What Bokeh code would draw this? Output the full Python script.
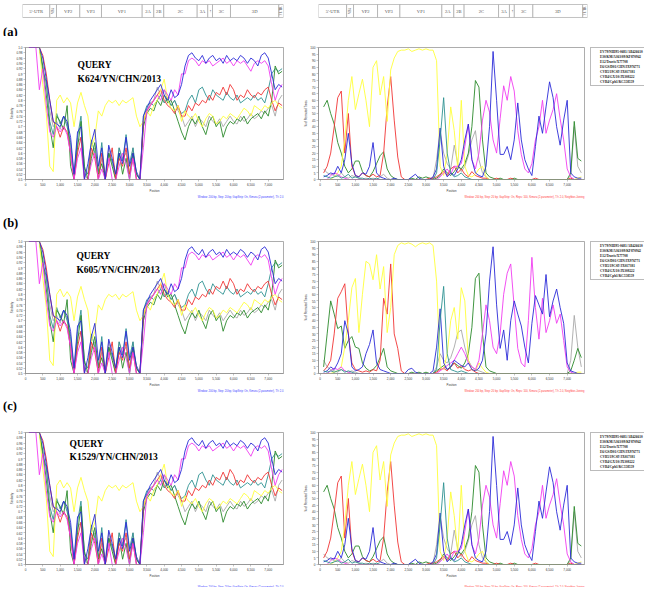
from bokeh.plotting import figure
from bokeh.models import (ColumnDataSource, FixedTicker, NumeralTickFormatter,
                          Legend, LegendItem, Label, Range1d)
from bokeh.layouts import row, column
from bokeh.embed import file_html
from bokeh.resources import INLINE
from bokeh.core.properties import value

# ---------------- data ----------------
positions = list(range(100, 7500, 100))   # genome position (nt), 74 points

strains = ["EV79/NIH95-0681/AB426610", "E30/KM/A363/09/KF870942", "E12/Travis/X77708",
           "E6/GS/D01/CHN/JX976771", "CVB5/19CSF/JX017381", "CVB4/GX/10/JX308222",
           "CVB4/Cpb1/KC558559"]
keys = ["ev79", "e30", "e12", "e6", "cvb5", "cvb4gx", "cvb4cpb1"]
colors = ["#f03434", "#2b8a2b", "#ffff3a", "#2a2ad8", "#a8a8a8", "#f03cf0", "#2e9292"]

# similarity values (SimPlot)
sim_ev79 = [1.0, 1.0, 1.0, 1.0, 0.97, 0.9, 0.8, 0.72, 0.7, 0.66, 0.7, 0.68, 0.6,
            0.5, 0.6, 0.66, 0.5, 0.5, 0.62, 0.58, 0.5, 0.6, 0.5, 0.56, 0.62, 0.5, 0.58, 0.55, 0.62, 0.52, 0.58, 0.5, 0.5,
            0.72, 0.76, 0.78, 0.8, 0.82, 0.84, 0.8, 0.78, 0.77, 0.75, 0.78, 0.74,
            0.74, 0.78, 0.76, 0.79, 0.78, 0.8, 0.79, 0.82, 0.8, 0.83, 0.82, 0.85, 0.82, 0.86, 0.84,
            0.8, 0.82, 0.81, 0.84, 0.82, 0.81, 0.83, 0.82, 0.84, 0.85, 0.8, 0.76, 0.79, 0.78]
sim_e30 = [1.0, 1.0, 1.0, 1.0, 0.93, 0.82, 0.7, 0.62, 0.74, 0.72, 0.69, 0.78, 0.55,
           0.5, 0.62, 0.72, 0.55, 0.5, 0.58, 0.64, 0.52, 0.56, 0.5, 0.6, 0.55, 0.5, 0.6, 0.52, 0.58, 0.5, 0.6, 0.52, 0.5,
           0.7, 0.75, 0.77, 0.76, 0.8, 0.78, 0.82, 0.79, 0.8, 0.76, 0.72, 0.68,
           0.65, 0.7, 0.73, 0.71, 0.74, 0.7, 0.67, 0.72, 0.74, 0.7, 0.72, 0.66, 0.7, 0.72, 0.71,
           0.73, 0.72, 0.74, 0.71, 0.73, 0.74, 0.75, 0.73, 0.76, 0.74, 0.8, 0.93, 0.9, 0.91]
sim_e12 = [1.0, 1.0, 1.0, 1.0, 0.86, 0.75, 0.55, 0.53, 0.8, 0.82, 0.79, 0.81, 0.79,
           0.7, 0.79, 0.83, 0.78, 0.74, 0.62, 0.66, 0.76, 0.74, 0.78, 0.8, 0.79, 0.8, 0.78, 0.8, 0.79, 0.8, 0.81, 0.74, 0.7,
           0.72, 0.76, 0.74, 0.78, 0.8, 0.84, 0.88, 0.8, 0.77, 0.76, 0.78, 0.72,
           0.76, 0.74, 0.73, 0.75, 0.72, 0.7, 0.73, 0.75, 0.74, 0.71, 0.72, 0.74, 0.73, 0.75, 0.74,
           0.73, 0.75, 0.77, 0.76, 0.74, 0.78, 0.77, 0.76, 0.78, 0.77, 0.79, 0.8, 0.78, 0.77]
sim_e6 = [1.0, 1.0, 1.0, 1.0, 0.96, 0.88, 0.8, 0.72, 0.71, 0.7, 0.74, 0.72, 0.66,
          0.52, 0.68, 0.7, 0.5, 0.56, 0.64, 0.69, 0.55, 0.62, 0.5, 0.63, 0.58, 0.52, 0.6, 0.56, 0.66, 0.55, 0.6, 0.53, 0.5,
          0.74, 0.77, 0.8, 0.82, 0.84, 0.86, 0.82, 0.8, 0.84, 0.81, 0.82, 0.86,
          0.93, 0.97, 0.98, 0.96, 0.95, 0.97, 0.94, 0.96, 0.97, 0.95, 0.96, 0.94, 0.97, 0.95, 0.96,
          0.95, 0.97, 0.96, 0.94, 0.96, 0.95, 0.93, 0.97, 0.98, 0.96, 0.9, 0.84, 0.86, 0.85]
sim_cvb5 = [1.0, 1.0, 1.0, 1.0, 0.92, 0.86, 0.76, 0.7, 0.72, 0.69, 0.74, 0.71, 0.62,
            0.5, 0.64, 0.66, 0.52, 0.5, 0.6, 0.62, 0.5, 0.58, 0.52, 0.62, 0.56, 0.5, 0.62, 0.58, 0.6, 0.52, 0.62, 0.5, 0.5,
            0.72, 0.76, 0.79, 0.8, 0.85, 0.82, 0.84, 0.8, 0.78, 0.8, 0.76, 0.74,
            0.7, 0.72, 0.74, 0.7, 0.73, 0.72, 0.7, 0.74, 0.72, 0.71, 0.73, 0.7, 0.72, 0.74, 0.72,
            0.71, 0.74, 0.72, 0.73, 0.75, 0.73, 0.74, 0.76, 0.75, 0.77, 0.78, 0.74, 0.8, 0.82]
sim_cvb4gx = [1.0, 1.0, 1.0, 0.84, 0.92, 0.78, 0.68, 0.66, 0.7, 0.68, 0.7, 0.67, 0.6,
              0.5, 0.58, 0.62, 0.5, 0.5, 0.56, 0.6, 0.5, 0.54, 0.5, 0.58, 0.5, 0.5, 0.55, 0.6, 0.56, 0.5, 0.58, 0.5, 0.5,
              0.62, 0.76, 0.78, 0.8, 0.82, 0.8, 0.84, 0.82, 0.8, 0.84, 0.82, 0.9,
              0.9, 0.95, 0.96, 0.95, 0.93, 0.95, 0.94, 0.95, 0.93, 0.94, 0.95, 0.96, 0.94, 0.95, 0.93,
              0.95, 0.94, 0.95, 0.93, 0.91, 0.94, 0.95, 0.94, 0.95, 0.93, 0.86, 0.8, 0.84, 0.86]
sim_cvb4cpb1 = [1.0, 1.0, 1.0, 1.0, 0.91, 0.87, 0.72, 0.67, 0.75, 0.71, 0.74, 0.7, 0.64,
                0.51, 0.66, 0.74, 0.54, 0.52, 0.65, 0.6, 0.53, 0.64, 0.5, 0.6, 0.57, 0.52, 0.62, 0.57, 0.67, 0.56, 0.62, 0.52, 0.5,
                0.74, 0.78, 0.79, 0.78, 0.8, 0.82, 0.79, 0.81, 0.78, 0.8, 0.77, 0.75,
                0.76, 0.8, 0.82, 0.79, 0.84, 0.85, 0.82, 0.8, 0.84, 0.82, 0.81, 0.8, 0.83, 0.81, 0.8,
                0.82, 0.79, 0.8, 0.81, 0.8, 0.82, 0.8, 0.81, 0.79, 0.84, 0.9, 0.92, 0.91, 0.92]

# bootscan values (% of permuted trees), panels (a) and (c)
boot_ev79 = [5, 10, 20, 40, 62, 67, 20, 50, 10, 3,
             2, 5, 3, 2, 4, 2, 3, 20, 55, 78,
             45, 17, 2, 0, 0, 0, 0, 0, 0, 0,
             1, 1, 2, 4, 6, 3, 8, 10, 5, 8,
             4, 2, 6, 3, 2, 1, 1, 0, 0, 1,
             0, 0, 0, 1, 0, 0, 0, 0, 0, 0,
             1, 0, 0, 0, 0, 0, 0, 0, 0, 0,
             1, 0, 0, 0]
boot_e30 = [55, 60, 50, 42, 28, 20, 10, 5, 8, 14,
            14, 6, 3, 2, 6, 12, 18, 21, 8, 3,
            1, 0, 0, 0, 0, 1, 0, 2, 1, 2,
            1, 0, 1, 3, 8, 5, 3, 6, 10, 8,
            12, 20, 40, 75, 70, 30, 5, 2, 1, 0,
            1, 0, 0, 0, 1, 0, 0, 0, 0, 0,
            0, 0, 0, 0, 0, 0, 0, 0, 0, 0,
            5, 44, 16, 14]
boot_e12 = [0, 0, 0, 2, 5, 10, 30, 60, 78, 53,
            65, 76, 60, 40, 85, 90, 64, 78, 44, 83,
            92, 97, 98, 98, 99, 97, 98, 99, 98, 99,
            98, 98, 90, 10, 3, 20, 55, 37, 8, 60,
            10, 3, 2, 4, 8, 10, 2, 0, 0, 0,
            0, 0, 0, 0, 0, 0, 0, 0, 0, 0,
            0, 0, 0, 0, 0, 0, 0, 0, 0, 0,
            0, 0, 1, 2]
boot_e6 = [2, 3, 5, 4, 10, 5, 15, 35, 12, 3,
           2, 5, 4, 10, 28, 5, 2, 1, 0, 0,
           1, 0, 0, 0, 0, 2, 4, 1, 0, 0,
           0, 2, 8, 39, 10, 2, 5, 3, 8, 15,
           30, 42, 15, 5, 3, 2, 10, 40, 97, 60,
           19, 19, 25, 15, 30, 58, 30, 15, 8, 3,
           25, 48, 35, 55, 74, 62, 40, 26, 45, 60,
           5, 2, 1, 1]
boot_cvb5 = [8, 5, 4, 3, 2, 5, 2, 1, 3, 2,
             1, 0, 1, 0, 1, 0, 2, 4, 1, 0,
             0, 0, 0, 0, 0, 0, 0, 0, 0, 0,
             0, 1, 15, 37, 20, 12, 8, 26, 12, 6,
             10, 18, 30, 37, 15, 5, 2, 0, 0, 0,
             0, 0, 0, 0, 0, 0, 0, 0, 0, 0,
             0, 0, 0, 0, 0, 0, 0, 0, 0, 0,
             3, 40, 10, 5]
boot_cvb4gx = [0, 0, 3, 5, 4, 2, 1, 0, 0, 0,
               0, 0, 0, 0, 0, 0, 0, 0, 0, 0,
               0, 0, 0, 0, 0, 0, 0, 0, 0, 0,
               0, 0, 0, 2, 5, 8, 4, 10, 10, 12,
               25, 42, 15, 8, 20, 45, 60, 51, 30, 20,
               46, 71, 60, 78, 67, 37, 19, 8, 5, 12,
               30, 40, 60, 35, 45, 53, 65, 46, 30, 8,
               2, 0, 0, 0]
boot_cvb4cpb1 = [3, 2, 1, 2, 3, 1, 2, 4, 1, 2,
                 1, 1, 0, 1, 0, 1, 0, 0, 0, 0,
                 0, 0, 0, 0, 0, 0, 0, 0, 0, 0,
                 0, 0, 5, 30, 62, 20, 5, 2, 3, 5,
                 2, 1, 0, 0, 0, 0, 0, 0, 0, 0,
                 0, 0, 0, 0, 0, 0, 0, 0, 0, 0,
                 0, 0, 0, 0, 0, 0, 0, 0, 0, 0,
                 0, 0, 0, 0]

# bootscan values, panel (b)
bootb_ev79 = [2, 5, 10, 30, 57, 62, 68, 30, 8, 3,
              2, 1, 2, 1, 3, 2, 10, 57, 45, 83,
              30, 19, 2, 0, 0, 0, 0, 0, 0, 0,
              0, 0, 1, 3, 4, 2, 5, 8, 4, 6,
              3, 2, 3, 1, 0, 0, 0, 0, 0, 0,
              0, 0, 0, 0, 0, 0, 0, 0, 0, 0,
              0, 0, 0, 0, 0, 0, 0, 0, 0, 0,
              0, 0, 0, 0]
bootb_e30 = [5, 30, 55, 45, 34, 36, 19, 25, 28, 20,
             19, 8, 4, 2, 3, 6, 12, 19, 5, 2,
             1, 0, 0, 0, 0, 1, 0, 1, 0, 1,
             0, 0, 2, 4, 6, 3, 5, 8, 6, 4,
             8, 15, 35, 72, 76, 30, 5, 2, 1, 0,
             0, 0, 0, 0, 0, 0, 0, 0, 0, 0,
             0, 0, 0, 0, 0, 0, 0, 0, 0, 0,
             2, 10, 19, 12]
bootb_e12 = [0, 0, 0, 1, 2, 5, 20, 40, 65, 72,
             31, 60, 85, 83, 71, 90, 64, 81, 31, 50,
             90, 97, 99, 98, 99, 98, 96, 98, 99, 98,
             99, 97, 70, 5, 3, 15, 40, 50, 26, 65,
             55, 10, 3, 2, 8, 4, 1, 0, 0, 0,
             0, 0, 0, 0, 0, 0, 0, 0, 0, 0,
             0, 0, 0, 0, 0, 0, 0, 0, 0, 0,
             0, 0, 1, 1]
bootb_e6 = [1, 2, 5, 3, 8, 15, 40, 30, 5, 2,
            3, 5, 15, 22, 33, 8, 3, 2, 1, 0,
            0, 0, 0, 0, 3, 4, 1, 0, 0, 0,
            0, 2, 20, 49, 8, 3, 5, 10, 8, 6,
            5, 8, 3, 2, 4, 10, 30, 70, 96, 52,
            19, 33, 10, 40, 55, 45, 36, 20, 8, 38,
            59, 52, 45, 75, 43, 55, 64, 50, 38, 8,
            2, 1, 0, 0]
bootb_cvb5 = [10, 5, 3, 2, 1, 3, 2, 1, 2, 1,
              0, 0, 0, 0, 0, 0, 0, 0, 0, 0,
              0, 0, 0, 0, 0, 0, 0, 0, 0, 0,
              0, 0, 5, 15, 10, 8, 12, 20, 31, 33,
              20, 10, 5, 3, 2, 1, 0, 0, 0, 0,
              0, 0, 0, 0, 0, 0, 0, 0, 0, 0,
              0, 0, 0, 0, 0, 0, 0, 0, 0, 0,
              10, 44, 20, 5]
bootb_cvb4gx = [0, 0, 2, 4, 3, 5, 2, 1, 0, 0,
                0, 0, 0, 0, 0, 0, 0, 0, 0, 0,
                0, 0, 0, 0, 0, 0, 0, 0, 0, 0,
                0, 0, 0, 2, 4, 6, 8, 10, 15, 20,
                15, 8, 5, 3, 10, 30, 52, 40, 20, 15,
                30, 60, 76, 83, 50, 19, 8, 5, 40, 88,
                50, 26, 57, 31, 40, 52, 38, 45, 25, 5,
                1, 0, 0, 0]
bootb_cvb4cpb1 = [2, 1, 2, 1, 2, 3, 1, 2, 1, 0,
                  0, 0, 0, 0, 0, 0, 0, 0, 0, 0,
                  0, 0, 0, 0, 0, 0, 0, 0, 0, 0,
                  0, 0, 3, 40, 66, 15, 3, 2, 1, 2,
                  1, 0, 0, 0, 0, 0, 0, 0, 0, 0,
                  0, 0, 0, 0, 0, 0, 0, 0, 0, 0,
                  0, 0, 0, 0, 0, 0, 0, 0, 0, 0,
                  0, 0, 0, 0]

sim_series = [sim_ev79, sim_e30, sim_e12, sim_e6, sim_cvb5, sim_cvb4gx, sim_cvb4cpb1]
boot_series = [boot_ev79, boot_e30, boot_e12, boot_e6, boot_cvb5, boot_cvb4gx, boot_cvb4cpb1]
bootb_series = [bootb_ev79, bootb_e30, bootb_e12, bootb_e6, bootb_cvb5, bootb_cvb4gx,
                bootb_cvb4cpb1]
boot_by_row = [boot_series, bootb_series, boot_series]

panel_tags = ["(a)", "(b)", "(c)"]
queries = ["K624/YN/CHN/2013", "K605/YN/CHN/2013", "K1529/YN/CHN/2013"]
query_x = [1500, 1470, 1270]
query_y1 = [0.914, 0.926, 0.939]
query_y2 = [0.860, 0.872, 0.888]

sim_ticks = [0.5, 0.52, 0.54, 0.56, 0.58, 0.6, 0.62, 0.64, 0.66, 0.68, 0.7, 0.72, 0.74,
             0.76, 0.78, 0.8, 0.82, 0.84, 0.86, 0.88, 0.9, 0.92, 0.94, 0.96, 0.98, 1.0]
sim_tick_labels = ["0.5", "0.52", "0.54", "0.56", "0.58", "0.6", "0.62", "0.64", "0.66", "0.68",
                   "0.7", "0.72", "0.74", "0.76", "0.78", "0.8", "0.82", "0.84", "0.86", "0.88",
                   "0.9", "0.92", "0.94", "0.96", "0.98", "1.0"]
boot_ticks = [0, 5, 10, 15, 20, 25, 30, 35, 40, 45, 50, 55, 60, 65, 70, 75, 80, 85, 90, 95, 100]
pos_ticks = [0, 500, 1000, 1500, 2000, 2500, 3000, 3500, 4000, 4500, 5000, 5500, 6000, 6500, 7000]

regions = ["5'-UTR", "VP4", "VP2", "VP3", "VP1", "2A", "2B", "2C", "3A", "3B", "3C", "3D", "3'UTR"]
region_bounds = [0, 781, 973, 1640, 2261, 3426, 3758, 4044, 5000, 5303, 5438, 5953, 7336, 7470]
region_angle = [0, 1.5708, 0, 0, 0, 0, 0, 0, 0, 1.5708, 0, 0, 1.5708]
region_font = ["4.6px", "3.4px", "4.6px", "4.6px", "4.6px", "4.6px", "4.6px", "4.6px", "4.6px",
               "2.4px", "4.6px", "4.6px", "3.4px"]

sim_caption = "Window: 200 bp, Step: 20 bp, GapStrip: On, Kimura (2-parameter), T/t: 2.0"
boot_caption = ("Window: 200 bp, Step: 20 bp, GapStrip: On, Reps: 100, Kimura (2-parameter), "
                "T/t: 2.0, Neighbor-Joining")

SANS = "Liberation Sans"
SERIF = "Liberation Serif"
AX = "#8a8a8a"

# ---------------- layout geometry (px) ----------------
W = 644
SIM_W, SIM_L, SIM_R = 300, 25, 17          # sim frame 25..283
BOOT_W, BOOT_L, BOOT_R = 288, 18, 4        # boot frame 318..584
LEG_W = 56                                 # legend column 588..644
ROW_H, ROW_TOP, ROW_BOT = 158, 1, 11       # frame height 146
LEG_TOP = 11


def base_fig(**kw):
    return figure(title=None, toolbar_location=None, output_backend="svg", **kw)


def style(p):
    p.xgrid.visible = False
    p.ygrid.visible = False
    p.outline_line_color = AX
    p.outline_line_width = 0.7
    p.background_fill_color = "white"
    p.border_fill_color = "white"
    for ax in (p.xaxis[0], p.yaxis[0]):
        ax.axis_line_color = AX
        ax.axis_line_width = 0.6
        ax.major_tick_line_color = AX
        ax.major_tick_line_width = 0.5
        ax.major_tick_out = 2
        ax.major_tick_in = 0
        ax.minor_tick_line_color = None
        ax.major_label_text_font = SANS
        ax.major_label_text_font_size = "3.1px"
        ax.major_label_text_color = "#333333"
        ax.major_label_standoff = 1
        ax.axis_label_text_font = SANS
        ax.axis_label_text_font_size = "2.8px"
        ax.axis_label_text_font_style = "normal"
        ax.axis_label_text_color = "#333333"
        ax.axis_label_standoff = 0
    p.xaxis[0].ticker = FixedTicker(ticks=pos_ticks)
    p.xaxis[0].formatter = NumeralTickFormatter(format="0,0")


def make_map(width, left, right):
    p = base_fig(width=width, height=18, x_range=Range1d(0, 7470), y_range=Range1d(-0.077, 1.308),
                 min_border_left=left, min_border_right=right, min_border_top=0,
                 min_border_bottom=0, x_axis_location=None, y_axis_location=None)
    p.xgrid.visible = False
    p.ygrid.visible = False
    p.outline_line_color = None
    src = ColumnDataSource(dict(
        left=region_bounds[:-1], right=region_bounds[1:], label=regions,
        mid=[(a + b) / 2 for a, b in zip(region_bounds[:-1], region_bounds[1:])],
        angle=region_angle, size=region_font))
    p.quad(left="left", right="right", bottom=0, top=1, source=src,
           fill_color="white", line_color="#9a9a9a", line_width=0.6)
    p.text(x="mid", y=0.5, text="label", angle="angle", source=src,
           text_align="center", text_baseline="middle", text_font=value(SERIF),
           text_font_size="size", text_color="#555555")
    return p


def make_strip(h, tag=None, tag_y=0, caption_y=None):
    """Strip of free text between the panel rows (pixel coordinates, y down)."""
    p = base_fig(width=W, height=h, x_range=Range1d(0, W), y_range=Range1d(h, 0),
                 min_border_left=0, min_border_right=0, min_border_top=0, min_border_bottom=0,
                 x_axis_location=None, y_axis_location=None)
    p.xgrid.visible = False
    p.ygrid.visible = False
    p.outline_line_color = None
    if caption_y is not None:
        p.text(x=[SIM_L + 258], y=[caption_y], text=[sim_caption], text_align="right",
               text_baseline="middle", text_font=value(SANS), text_font_size="2.6px",
               text_color="#3c3cff")
        p.text(x=[SIM_W + BOOT_L + 266], y=[caption_y], text=[boot_caption], text_align="right",
               text_baseline="middle", text_font=value(SANS), text_font_size="2.6px",
               text_color="#ff3c3c")
    if tag is not None:
        p.text(x=[2.5], y=[tag_y], text=[tag], text_align="left", text_baseline="alphabetic",
               text_font=value(SERIF), text_font_style="bold", text_font_size="12.5px",
               text_color="black")
    return p


def make_sim(k):
    p = base_fig(width=SIM_W, height=ROW_H, x_range=Range1d(0, 7440), y_range=Range1d(0.5, 1.0),
                 min_border_left=SIM_L, min_border_right=SIM_R, min_border_top=ROW_TOP,
                 min_border_bottom=ROW_BOT, x_axis_label="Position", y_axis_label="Similarity")
    style(p)
    p.yaxis[0].ticker = FixedTicker(ticks=sim_ticks)
    p.yaxis[0].major_label_overrides = dict(zip(sim_ticks, sim_tick_labels))
    src = ColumnDataSource(dict(pos=positions, **{k2: s for k2, s in zip(keys, sim_series)}))
    for i in [4, 6, 1, 0, 2, 5, 3]:
        p.line("pos", keys[i], source=src, color=colors[i], line_width=0.9)
    p.add_layout(Label(x=query_x[k], y=query_y1[k], text="QUERY", text_font=SERIF,
                       text_font_style="bold", text_font_size="9.5px", text_color="black"))
    p.add_layout(Label(x=query_x[k], y=query_y2[k], text=queries[k], text_font=SERIF,
                       text_font_style="bold", text_font_size="9.5px", text_color="black"))
    return p


def make_boot(k):
    p = base_fig(width=BOOT_W, height=ROW_H, x_range=Range1d(-45, 7490), y_range=Range1d(0, 100),
                 min_border_left=BOOT_L, min_border_right=BOOT_R, min_border_top=ROW_TOP,
                 min_border_bottom=ROW_BOT, x_axis_label="Position",
                 y_axis_label="% of Permuted Trees")
    style(p)
    p.yaxis[0].ticker = FixedTicker(ticks=boot_ticks)
    src = ColumnDataSource(dict(pos=positions, **{k2: s for k2, s in zip(keys, boot_by_row[k])}))
    for i in [4, 1, 0, 2, 5, 3, 6]:
        p.line("pos", keys[i], source=src, color=colors[i], line_width=0.9)
    return p


def make_legend(k):
    p = base_fig(width=LEG_W, height=ROW_H, x_range=Range1d(0, 1), y_range=Range1d(0, 1),
                 min_border_left=2, min_border_right=0, min_border_top=LEG_TOP,
                 min_border_bottom=0, x_axis_location=None, y_axis_location=None)
    p.xgrid.visible = False
    p.ygrid.visible = False
    p.outline_line_color = None
    items = []
    for i in range(7):
        r = p.line(x=[], y=[], color=colors[i], line_width=1.0)
        items.append(LegendItem(label=strains[i], renderers=[r]))
    leg = Legend(items=items, location="top_left", margin=0, padding=1, spacing=0,
                 glyph_width=6, glyph_height=5, label_height=5, label_standoff=2,
                 label_text_font=SERIF, label_text_font_style="bold",
                 label_text_font_size="3.4px", label_text_color="#111111",
                 border_line_color="#777777", border_line_width=0.6,
                 background_fill_color="white", background_fill_alpha=1.0)
    p.add_layout(leg)
    return p


maps = row(make_map(SIM_W, 22, 17), make_map(BOOT_W + LEG_W, 18, 57))
strip_a = make_strip(18, tag="(a)", tag_y=13.2)
strip_ab = make_strip(36, tag="(b)", tag_y=28.7, caption_y=2.5)
strip_bc = make_strip(33, tag="(c)", tag_y=17.7, caption_y=2.5)
strip_c = make_strip(8, caption_y=4.0)
rows = [row(make_sim(k), make_boot(k), make_legend(k)) for k in range(3)]
layout = column(maps, strip_a, rows[0], strip_ab, rows[1], strip_bc, rows[2], strip_c)

open("out.html", "w").write(file_html(layout, INLINE))
